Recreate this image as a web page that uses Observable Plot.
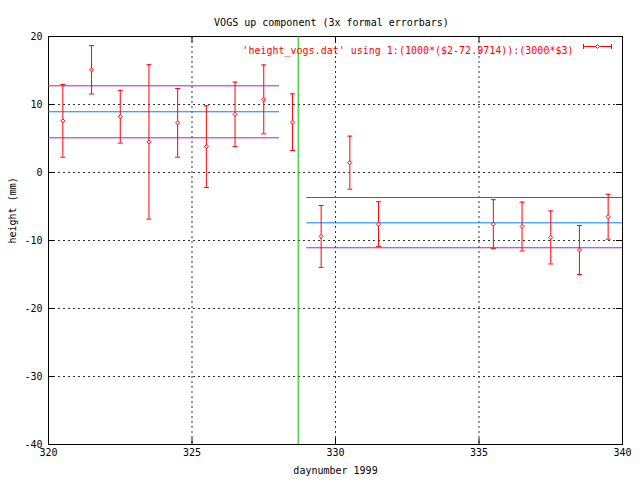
<!DOCTYPE html>
<html><head><meta charset="utf-8">
<script src="https://cdn.jsdelivr.net/npm/d3@7"></script>
<script src="https://cdn.jsdelivr.net/npm/@observablehq/plot@0.6"></script>
<style>body{margin:0;background:#fff} svg{display:block}</style>
</head><body><div id="chart"></div>
<script>
// data
const days    = [320.5, 321.5, 322.5, 323.5, 324.5, 325.5, 326.5, 327.5, 328.5, 329.5, 330.5, 331.5, 335.5, 336.5, 337.5, 338.5, 339.5];
const heights = [7.6, 15.1, 8.2, 4.5, 7.3, 3.8, 8.55, 10.75, 7.4, -9.4, 1.45, -7.6, -7.6, -7.95, -9.55, -11.4, -6.5];
const errors  = [5.35, 3.56, 3.88, 11.35, 5.05, 6.0, 4.75, 5.07, 4.17, 4.55, 3.9, 3.3, 3.6, 3.6, 3.9, 3.6, 3.3];

const segStart = [320, 329.0];
const segEnd   = [328.05, 340];
const segMean  = [8.93, -7.40];
const segUpper = [12.75, -3.68];
const segLower = [5.10, -11.07];

const breakDay = [328.7];

const xTicks = [320, 325, 330, 335, 340];
const yTicks = [20, 10, 0, -10, -20, -30, -40];
const xGrid = [325, 330, 335];
const yGrid = [10, 0, -10, -20, -30];

const titleText = "VOGS up component (3x formal errorbars)";
const xLabel = "daynumber 1999";
const yLabel = "height (mm)";
const legendText = "'height_vogs.dat' using 1:(1000*($2-72.9714)):(3000*$3)";

const RED = "#ff0000", GREEN = "#00c000", BLUE = "#0080ff", PURPLE = "#a020f0";

const points = days.map((d, i) => ({day: d, h: heights[i], lo: heights[i] - errors[i], hi: heights[i] + errors[i]}));
const segs = segStart.map((s, i) => ({x1: s, x2: segEnd[i], mean: segMean[i], up: segUpper[i], low: segLower[i]}));

const capSymbol = {draw(ctx) { ctx.moveTo(-2.5, 0); ctx.lineTo(2.5, 0); }};
const diamondSymbol = {draw(ctx) { ctx.moveTo(0, -2); ctx.lineTo(2, 0); ctx.lineTo(0, 2); ctx.lineTo(-2, 0); ctx.closePath(); }};
const legendSymbol = {draw(ctx) {
  ctx.moveTo(-14, 0); ctx.lineTo(14, 0);
  ctx.moveTo(-14, -2.5); ctx.lineTo(-14, 2.5);
  ctx.moveTo(14, -2.5); ctx.lineTo(14, 2.5);
}};

const W = 640, H = 480, ML = 48, MR = 18, MT = 36, MB = 36;
const FW = W - ML - MR, FH = H - MT - MB;

const chart = Plot.plot({
  width: W, height: H,
  marginLeft: ML, marginRight: MR, marginTop: MT, marginBottom: MB,
  style: {fontFamily: "'DejaVu Sans Mono', monospace", fontSize: "10px", background: "#fff", color: "#000"},
  x: {domain: [320, 340], axis: null},
  y: {domain: [-40, 20], axis: null},
  marks: [
    Plot.ruleX(xGrid, {x: d => d, stroke: "#333", strokeDasharray: "2,3"}),
    Plot.ruleY(yGrid, {y: d => d, stroke: "#333", strokeDasharray: "2,3"}),
    Plot.frame({stroke: "#000"}),
    Plot.tickY(yTicks, {y: d => d, insetRight: FW - 6, stroke: "#000"}),
    Plot.tickY(yTicks, {y: d => d, insetLeft: FW - 6, stroke: "#000"}),
    Plot.tickX(xTicks, {x: d => d, insetTop: FH - 6, stroke: "#000"}),
    Plot.tickX(xTicks, {x: d => d, insetBottom: FH - 6, stroke: "#000"}),
    Plot.text(yTicks, {y: d => d, text: d => String(d), frameAnchor: "left", dx: -6, textAnchor: "end"}),
    Plot.text(xTicks, {x: d => d, text: d => String(d), frameAnchor: "bottom", dy: 11}),
    // horizontal level lines
    Plot.ruleY(segs, {y: "up", x1: "x1", x2: "x2", stroke: PURPLE}),
    Plot.ruleY(segs, {y: "low", x1: "x1", x2: "x2", stroke: PURPLE}),
    Plot.ruleY(segs, {y: "mean", x1: "x1", x2: "x2", stroke: BLUE}),
    Plot.ruleX(breakDay, {x: d => d, stroke: GREEN}),
    // error bars
    Plot.ruleX(points, {x: "day", y1: "lo", y2: "hi", stroke: RED}),
    Plot.dot(points, {x: "day", y: "lo", symbol: capSymbol, stroke: RED, fill: "none", strokeWidth: 1}),
    Plot.dot(points, {x: "day", y: "hi", symbol: capSymbol, stroke: RED, fill: "none", strokeWidth: 1}),
    Plot.dot(points, {x: "day", y: "h", symbol: diamondSymbol, stroke: RED, fill: "white", strokeWidth: 1}),
    // legend
    Plot.text([legendText], {frameAnchor: "top-right", dx: -49, dy: 10, textAnchor: "end", fill: RED}),
    Plot.dot([0], {frameAnchor: "top-right", dx: -25, dy: 10, symbol: legendSymbol, stroke: RED, fill: "none", strokeWidth: 1}),
    Plot.dot([0], {frameAnchor: "top-right", dx: -25, dy: 10, symbol: diamondSymbol, stroke: RED, fill: "white", strokeWidth: 1}),
    // titles
    Plot.text([titleText], {frameAnchor: "top", dx: -4, dy: -18}),
    Plot.text([xLabel], {frameAnchor: "bottom", dy: 29}),
    Plot.text([yLabel], {frameAnchor: "left", dx: -36, dy: 3, rotate: -90})
  ]
});
document.getElementById("chart").appendChild(chart);
</script>
</body></html>
